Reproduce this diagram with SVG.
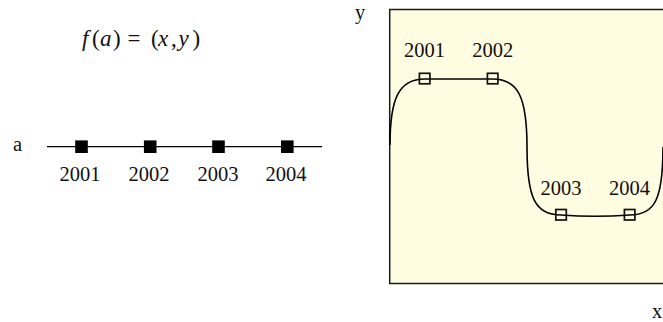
<svg xmlns="http://www.w3.org/2000/svg" width="663" height="322" viewBox="0 0 663 322">
<style>
  .t { font-family: "Liberation Serif", "DejaVu Serif", serif; font-size: 20.5px; fill: #111; }
  .f { font-size: 23px; }
  .lbl { text-anchor: middle; }
  .i { font-style: italic; }
  .fill-sq { fill: #000; }
  .hol-sq { fill: none; stroke: #111; stroke-width: 1.7; }
  .curve { fill: none; stroke: #000; stroke-width: 1.6; }
  .axis { stroke: #000; stroke-width: 1.3; }
</style>
<rect width="663" height="322" fill="#fff"/>

<!-- left panel -->
<g id="formula">
  <text class="t f" y="46"><tspan class="i" x="82">f</tspan><tspan x="92">(</tspan><tspan class="i" x="100">a</tspan><tspan x="113">)</tspan><tspan x="127.5">=</tspan><tspan x="151">(</tspan><tspan class="i" x="158">x</tspan><tspan x="171">,</tspan><tspan class="i" x="178.5">y</tspan><tspan x="192.5">)</tspan></text>
</g>
<g id="a-axis">
  <text class="t" x="13" y="151">a</text>
  <line class="axis" x1="47" y1="146.7" x2="322" y2="146.7"/>
</g>
<g id="a2001"><rect class="fill-sq" x="75.2" y="140.4" width="12.6" height="12.6"/><text class="t lbl" x="80" y="181">2001</text></g>
<g id="a2002"><rect class="fill-sq" x="143.9" y="140.4" width="12.6" height="12.6"/><text class="t lbl" x="149" y="181">2002</text></g>
<g id="a2003"><rect class="fill-sq" x="212.2" y="140.4" width="12.6" height="12.6"/><text class="t lbl" x="218" y="181">2003</text></g>
<g id="a2004"><rect class="fill-sq" x="281" y="140.4" width="12.6" height="12.6"/><text class="t lbl" x="286" y="181">2004</text></g>

<!-- right panel -->
<g id="plane">
  <rect x="389.7" y="9.5" width="290" height="274" fill="#FEFDE1" stroke="#1a1a1a" stroke-width="1.5"/>
  <text class="t" x="355" y="19">y</text>
  <text class="t" x="652" y="318">x</text>
</g>
<g id="connectors">
  <path class="curve" d="M390,145 C390,98 399,79 424.7,79 L492.7,79 C518,79 527,97 527,147 C527,198 535,215 561,215 C583,216.6 607,216.6 629.7,215 C655,215 663,199 663,147"/>
</g>
<g id="p2001"><rect class="hol-sq" x="419.4" y="73.3" width="10.5" height="10.5"/><text class="t lbl" x="424.5" y="57">2001</text></g>
<g id="p2002"><rect class="hol-sq" x="487.4" y="73.3" width="10.5" height="10.5"/><text class="t lbl" x="492.7" y="57">2002</text></g>
<g id="p2003"><rect class="hol-sq" x="555.8" y="209.5" width="10.5" height="10.5"/><text class="t lbl" x="561" y="195">2003</text></g>
<g id="p2004"><rect class="hol-sq" x="624.4" y="209.5" width="10.5" height="10.5"/><text class="t lbl" x="629.5" y="195">2004</text></g>
</svg>
